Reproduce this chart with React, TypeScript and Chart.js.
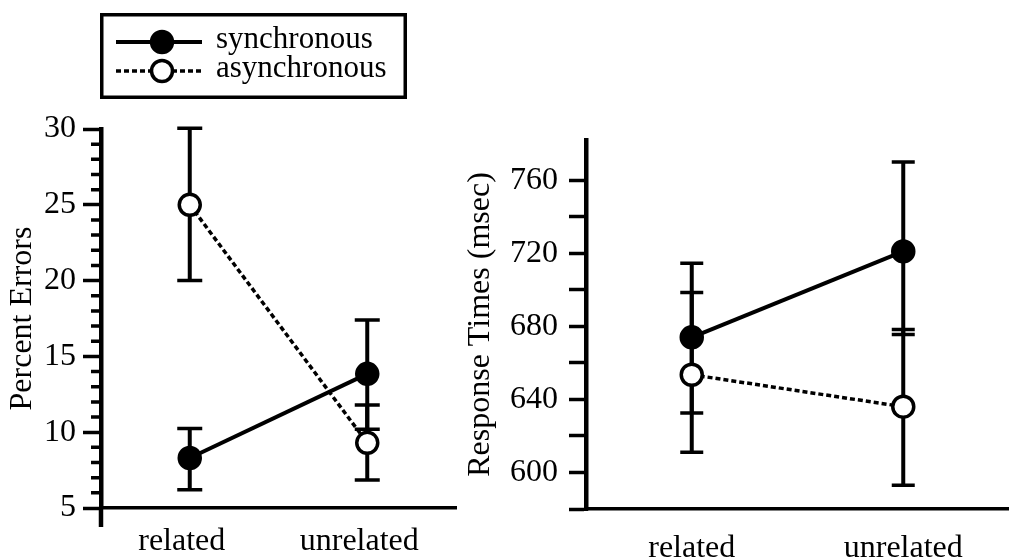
import React, { useEffect, useRef } from 'react';
import { Chart, registerables } from 'chart.js';

Chart.register(...registerables);

// ---------- data ----------
const categories = ['related', 'unrelated'];
const seriesNames = ['synchronous', 'asynchronous'];

// Left panel: Percent Errors
const errSync = [8.3, 13.85];
const errSyncLow = [6.2, 10.2];
const errSyncHigh = [10.25, 17.4];
const errAsync = [25.0, 9.3];
const errAsyncLow = [20.0, 6.85];
const errAsyncHigh = [30.05, 11.8];
const errTicks = [5, 10, 15, 20, 25, 30];
const errMinorTicks = [6, 7, 8, 9, 11, 12, 13, 14, 16, 17, 18, 19, 21, 22, 23, 24, 26, 27, 28, 29];

// Right panel: Response Times (msec)
const rtSync = [674, 721];
const rtSyncLow = [632.5, 675.5];
const rtSyncHigh = [714.5, 770];
const rtAsync = [653.5, 636];
const rtAsyncLow = [611, 593];
const rtAsyncHigh = [698.5, 678.3];
const rtTicks = [580, 600, 620, 640, 660, 680, 700, 720, 740, 760];
const rtLabeledTicks = [600, 640, 680, 720, 760];

// ---------- styles ----------
const FONT_FAMILY = '"Liberation Serif", "Times New Roman", Times, serif';
const tickFont = { family: FONT_FAMILY, size: 32 };
const titleFont = { family: FONT_FAMILY, size: 32 };
const legendFontSize = 31;
const BLACK = '#000000';
const syncStyle = { borderWidth: 4, borderDash: [] as number[], fill: BLACK };
const asyncStyle = { borderWidth: 3.5, borderDash: [5, 3], fill: '#ffffff' };

function seriesDataset(label: string, data: number[], st: typeof syncStyle) {
  return {
    label,
    data,
    borderColor: BLACK,
    borderWidth: st.borderWidth,
    borderDash: st.borderDash,
    backgroundColor: st.fill,
    pointBackgroundColor: st.fill,
    pointBorderColor: BLACK,
    pointBorderWidth: 3.5,
    pointRadius: 10.5,
    pointHoverRadius: 10.5,
    tension: 0,
    clip: false as const,
  };
}

const errorBarPlugin = {
  id: 'errorBars',
  beforeDatasetsDraw(chart: any, _args: any, opts: any) {
    const { ctx, scales } = chart;
    const x = scales.x;
    const y = scales.y;
    const bars = opts.bars as { low: number[]; high: number[] }[];
    if (!bars) return;
    ctx.save();
    ctx.strokeStyle = BLACK;
    ctx.lineCap = 'butt';
    bars.forEach((b) => {
      b.low.forEach((lo, i) => {
        const px = x.getPixelForValue(i);
        const yl = y.getPixelForValue(lo);
        const yh = y.getPixelForValue(b.high[i]);
        ctx.lineWidth = 4;
        ctx.beginPath();
        ctx.moveTo(px, yl);
        ctx.lineTo(px, yh);
        ctx.stroke();
        ctx.lineWidth = 3.5;
        ctx.beginPath();
        ctx.moveTo(px - opts.cap, yl);
        ctx.lineTo(px + opts.cap, yl);
        ctx.moveTo(px - opts.cap, yh);
        ctx.lineTo(px + opts.cap, yh);
        ctx.stroke();
      });
    });
    ctx.restore();
  },
};

const axisExtrasPlugin = {
  id: 'axisExtras',
  afterDraw(chart: any, _args: any, opts: any) {
    const { ctx, chartArea, scales } = chart;
    const y = scales.y;
    ctx.save();
    ctx.strokeStyle = BLACK;
    ctx.lineCap = 'butt';
    if (opts.extend) {
      ctx.lineWidth = 4.5;
      ctx.beginPath();
      ctx.moveTo(chartArea.left, chartArea.bottom);
      ctx.lineTo(chartArea.left, chartArea.bottom + opts.extend);
      ctx.stroke();
    }
    if (opts.minor) {
      ctx.lineWidth = 3.5;
      ctx.beginPath();
      (opts.minor as number[]).forEach((v) => {
        const py = y.getPixelForValue(v);
        ctx.moveTo(chartArea.left - opts.minorLength, py);
        ctx.lineTo(chartArea.left, py);
      });
      ctx.stroke();
    }
    ctx.restore();
  },
};

const boxLegendPlugin = {
  id: 'boxLegend',
  afterDraw(chart: any, _args: any, opts: any) {
    if (!opts.show) return;
    const { ctx } = chart;
    const bx = 100, by = 13, bw = 307, bh = 86;
    ctx.save();
    ctx.strokeStyle = BLACK;
    ctx.lineWidth = 3.5;
    ctx.strokeRect(bx + 1.75, by + 1.75, bw - 3.5, bh - 3.5);
    const rows = [
      { y: 42, st: syncStyle, name: seriesNames[0] },
      { y: 71, st: asyncStyle, name: seriesNames[1] },
    ];
    rows.forEach((r) => {
      ctx.setLineDash(r.st.borderDash);
      ctx.lineWidth = r.st.borderWidth;
      ctx.beginPath();
      ctx.moveTo(116, r.y);
      ctx.lineTo(202, r.y);
      ctx.stroke();
      ctx.setLineDash([]);
      ctx.lineWidth = 3.5;
      ctx.fillStyle = r.st.fill;
      ctx.beginPath();
      ctx.arc(162, r.y, 10.5, 0, Math.PI * 2);
      ctx.fill();
      ctx.stroke();
      ctx.fillStyle = BLACK;
      ctx.font = `${legendFontSize}px ${FONT_FAMILY}`;
      ctx.textAlign = 'left';
      ctx.textBaseline = 'middle';
      ctx.fillText(r.name, 216, r.y - 2);
    });
    ctx.restore();
  },
};

function makeConfig(panel: 'left' | 'right'): any {
  const isLeft = panel === 'left';
  const sync = isLeft ? errSync : rtSync;
  const asy = isLeft ? errAsync : rtAsync;
  return {
    type: 'line',
    data: {
      labels: categories,
      datasets: [seriesDataset(seriesNames[0], sync, syncStyle), seriesDataset(seriesNames[1], asy, asyncStyle)],
    },
    plugins: [errorBarPlugin, axisExtrasPlugin, boxLegendPlugin],
    options: {
      animation: false,
      responsive: false,
      maintainAspectRatio: false,
      events: [],
      layout: {
        autoPadding: false,
        padding: isLeft ? { top: 129, right: 4, left: 0, bottom: 0 } : { top: 140, right: 0, left: 0, bottom: 0 },
      },
      plugins: {
        legend: { display: false },
        tooltip: { enabled: false },
        errorBars: {
          cap: isLeft ? 12.5 : 11.5,
          bars: isLeft
            ? [
                { low: errSyncLow, high: errSyncHigh },
                { low: errAsyncLow, high: errAsyncHigh },
              ]
            : [
                { low: rtSyncLow, high: rtSyncHigh },
                { low: rtAsyncLow, high: rtAsyncHigh },
              ],
        },
        axisExtras: isLeft ? { extend: 19, minor: errMinorTicks, minorLength: 10 } : { extend: 2 },
        boxLegend: { show: isLeft },
      },
      scales: {
        x: {
          type: 'category',
          offset: true,
          grid: { display: false, drawTicks: false },
          border: { display: true, color: BLACK, width: 3.5 },
          ticks: {
            font: tickFont,
            color: BLACK,
            padding: isLeft ? 14 : 20,
            labelOffset: isLeft ? -8 : 0,
            maxRotation: 0,
            autoSkip: false,
          },
          afterFit: (s: any) => {
            s.height = isLeft ? 49 : 48;
            s.paddingLeft = 0;
            s.paddingRight = 0;
          },
        },
        y: {
          type: 'linear',
          min: isLeft ? 5 : 580,
          max: isLeft ? 30 : 782,
          afterBuildTicks: (s: any) => {
            s.ticks = (isLeft ? errTicks : rtTicks).map((v) => ({ value: v }));
          },
          grid: {
            drawOnChartArea: false,
            drawTicks: true,
            tickLength: isLeft ? 18 : 17,
            tickWidth: 3.5,
            tickColor: BLACK,
          },
          border: { display: true, color: BLACK, width: 4.5 },
          ticks: {
            font: tickFont,
            color: BLACK,
            padding: isLeft ? 7 : 11,
            autoSkip: false,
            callback: (v: any) => (isLeft || rtLabeledTicks.includes(v) ? String(v) : ''),
          },
          title: {
            display: true,
            text: isLeft ? 'Percent Errors' : 'Response Times (msec)',
            font: titleFont,
            color: BLACK,
            padding: { top: isLeft ? 3 : 1, bottom: 0 },
          },
          afterFit: (s: any) => {
            s.width = isLeft ? 101 : 126;
            s.paddingTop = 0;
            s.paddingBottom = 0;
          },
        },
      },
    },
  };
}

export default function App() {
  const leftRef = useRef<HTMLCanvasElement>(null);
  const rightRef = useRef<HTMLCanvasElement>(null);

  useEffect(() => {
    const charts: Chart[] = [];
    if (leftRef.current) charts.push(new Chart(leftRef.current, makeConfig('left')));
    if (rightRef.current) charts.push(new Chart(rightRef.current, makeConfig('right')));
    return () => charts.forEach((c) => c.destroy());
  }, []);

  return (
    <div style={{ position: 'absolute', left: 0, top: 0, width: 1009, height: 557, background: '#fff', overflow: 'hidden' }}>
      <canvas ref={leftRef} width={460} height={557} style={{ position: 'absolute', left: 0, top: 0, width: 460, height: 557 }} />
      <canvas ref={rightRef} width={549} height={557} style={{ position: 'absolute', left: 460, top: 0, width: 549, height: 557 }} />
    </div>
  );
}
